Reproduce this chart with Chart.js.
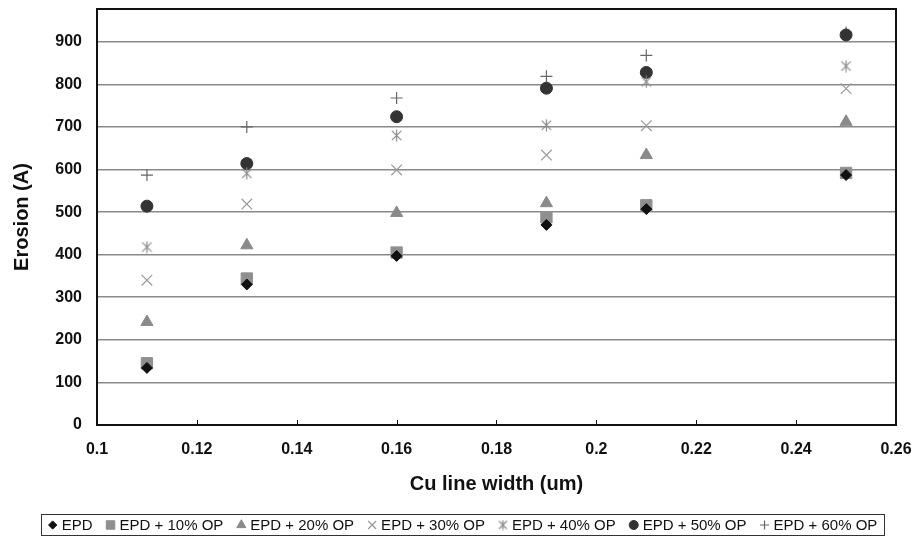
<!DOCTYPE html>
<html>
<head>
<meta charset="utf-8">
<script src="https://cdn.jsdelivr.net/npm/chart.js@4/dist/chart.umd.min.js"></script>
<style>
html,body{margin:0;padding:0;background:#fff;}
#wrap{width:916px;height:539px;position:relative;}
</style>
</head>
<body>
<div id="wrap"><canvas id="c" width="916" height="539"></canvas></div>
<script>
// ---- data ----
const widths = [0.11, 0.13, 0.16, 0.19, 0.21, 0.25];
const seriesNames = ['EPD', 'EPD + 10% OP', 'EPD + 20% OP', 'EPD + 30% OP', 'EPD + 40% OP', 'EPD + 50% OP', 'EPD + 60% OP'];
const epd      = [134, 330, 397, 470, 507, 587];
const op10     = [145, 344, 405, 488, 516, 592];
const op20     = [242, 422, 498, 521, 634, 712];
const op30     = [340, 519, 599, 634, 703, 790];
const op40     = [418, 591, 680, 704, 806, 843];
const op50     = [514, 614, 724, 791, 828, 916];
const op60     = [587, 700, 768, 819, 868, 922];
const yTicks = [0, 100, 200, 300, 400, 500, 600, 700, 800, 900];
const xTicks = [0.1, 0.12, 0.14, 0.16, 0.18, 0.2, 0.22, 0.24, 0.26];
const xTickLabels = ['0.1', '0.12', '0.14', '0.16', '0.18', '0.2', '0.22', '0.24', '0.26'];

const seriesValues = [epd, op10, op20, op30, op40, op50, op60];

// asterisk-like marker (x with a vertical bar)
function makeStar(size, color) {
  const cv = document.createElement('canvas');
  cv.width = size; cv.height = size;
  const g = cv.getContext('2d');
  g.strokeStyle = color; g.lineWidth = 1.2; g.lineCap = 'butt';
  const m = size / 2, d = size * 0.36;
  g.beginPath();
  g.moveTo(m - d, m - d); g.lineTo(m + d, m + d);
  g.moveTo(m + d, m - d); g.lineTo(m - d, m + d);
  g.moveTo(m, 0.5); g.lineTo(m, size - 0.5);
  g.stroke();
  return cv;
}
const starImg = makeStar(13, '#8a8a8a');
const starImgSmall = makeStar(11, '#8a8a8a');

const styles = [
  {ps: 'rectRot',  r: 5.5, c: '#111111', bw: 1},
  {ps: 'rect',     r: 8,   c: '#8f8f8f', bw: 1},
  {ps: 'triangle', r: 7,   c: '#8a8a8a', bw: 1},
  {ps: 'crossRot', r: 7.5, c: '#9a9a9a', bw: 1.2},
  {ps: starImg,    r: 6.5, c: '#8a8a8a', bw: 1.2},
  {ps: 'circle',   r: 6,   c: '#333333', bw: 1},
  {ps: 'cross',    r: 6,   c: '#666666', bw: 1.2}
];

const datasets = seriesNames.map((name, i) => ({
  label: name,
  data: widths.map((w, j) => ({x: w, y: seriesValues[i][j]})),
  pointStyle: styles[i].ps,
  pointRadius: styles[i].r,
  pointHoverRadius: styles[i].r,
  backgroundColor: styles[i].c,
  borderColor: styles[i].c,
  pointBorderWidth: styles[i].bw,
  showLine: false
}));

const FONT = "Arial, 'Liberation Sans', sans-serif";

const framePlugin = {
  id: 'frame',
  afterDraw(chart) {
    const {ctx, chartArea: a} = chart;
    const xs = chart.scales.x;
    ctx.save();
    ctx.strokeStyle = '#111';
    ctx.lineWidth = 1;
    xTicks.forEach(v => {
      const px = Math.round(xs.getPixelForValue(v)) + 0.5;
      ctx.beginPath();
      ctx.moveTo(px, a.bottom);
      ctx.lineTo(px, a.bottom - 5);
      ctx.stroke();
    });
    ctx.strokeStyle = '#111';
    ctx.lineWidth = 2;
    ctx.strokeRect(a.left, a.top, a.right - a.left, a.bottom - a.top);
    ctx.restore();
  }
};

const legendPlugin = {
  id: 'boxLegend',
  afterDraw(chart) {
    const ctx = chart.ctx;
    ctx.save();
    ctx.font = '15px ' + FONT;
    const markerW = 12, gap1 = 3, gap2 = 12;
    const items = chart.data.datasets.map(ds => ({ds, tw: ctx.measureText(ds.label).width}));
    let total = 0;
    items.forEach((it, i) => { total += markerW + gap1 + it.tw + (i < items.length - 1 ? gap2 : 0); });
    const padX = 6;
    const cx = 462, cy = 525;
    const boxL = cx - total / 2 - padX, boxW = total + padX * 2;
    ctx.strokeStyle = '#333';
    ctx.lineWidth = 1;
    ctx.strokeRect(Math.round(boxL) + 0.5, 514.5, Math.round(boxW), 21);
    let x = cx - total / 2;
    items.forEach(it => {
      const ds = it.ds;
      ctx.fillStyle = ds.backgroundColor;
      ctx.strokeStyle = ds.borderColor;
      ctx.lineWidth = ds.pointBorderWidth;
      const ps = ds.pointStyle === starImg ? starImgSmall : ds.pointStyle;
      Chart.helpers.drawPoint(ctx, {pointStyle: ps, radius: ds.pointRadius * 0.75, rotation: 0, borderWidth: ds.pointBorderWidth}, x + markerW / 2, cy);
      x += markerW + gap1;
      ctx.fillStyle = '#111';
      ctx.textBaseline = 'middle';
      ctx.textAlign = 'left';
      ctx.fillText(ds.label, x, cy + 1);
      x += it.tw + gap2;
    });
    ctx.restore();
  }
};

new Chart(document.getElementById('c'), {
  type: 'scatter',
  data: {datasets},
  options: {
    responsive: false,
    animation: false,
    layout: {padding: {left: 0, right: 20, top: 8, bottom: 40}},
    plugins: {legend: {display: false}, tooltip: {enabled: false}},
    scales: {
      x: {
        type: 'linear',
        min: 0.1, max: 0.26,
        afterBuildTicks: s => { s.ticks = xTicks.map(v => ({value: v})); },
        afterFit: s => { s.height = 74; s.paddingLeft = 0; s.paddingRight = 0; },
        grid: {display: false, drawTicks: false},
        border: {display: true, color: '#111', width: 2},
        ticks: {
          padding: 15,
          color: '#111',
          font: {family: FONT, size: 16, weight: 'bold'},
          callback: (v, i) => xTickLabels[i]
        },
        title: {
          display: true,
          text: 'Cu line width (um)',
          color: '#111',
          font: {family: FONT, size: 20, weight: 'bold'},
          padding: {top: 0, bottom: 3}
        }
      },
      y: {
        type: 'linear',
        min: 0, max: 977,
        afterBuildTicks: s => { s.ticks = yTicks.map(v => ({value: v})); },
        afterFit: s => { s.width = 97; s.paddingTop = 0; s.paddingBottom = 0; },
        grid: {color: '#8a8a8a', lineWidth: 1.6, drawTicks: false},
        border: {display: true, color: '#111', width: 2},
        ticks: {
          padding: 15,
          color: '#111',
          font: {family: FONT, size: 16, weight: 'bold'},
          callback: v => String(v)
        },
        title: {
          display: true,
          text: 'Erosion (A)',
          color: '#111',
          font: {family: FONT, size: 20, weight: 'bold'},
          padding: {top: 10, bottom: 0}
        }
      }
    }
  },
  plugins: [framePlugin, legendPlugin]
});
</script>
</body>
</html>
